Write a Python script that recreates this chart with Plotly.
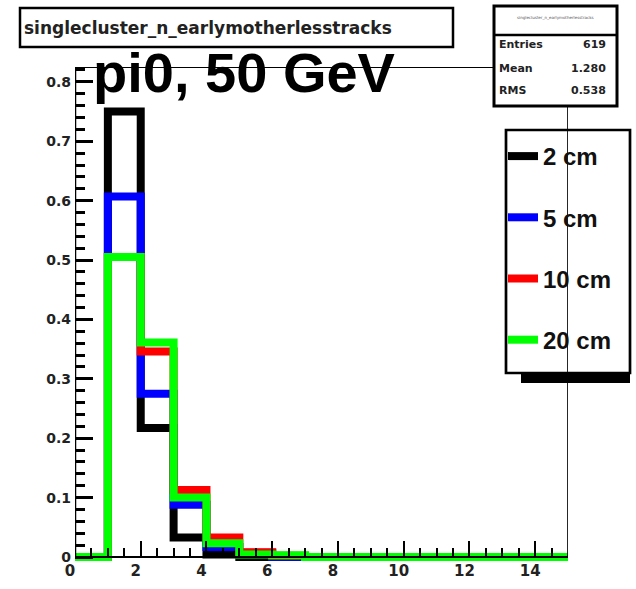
import plotly.graph_objects as go

# Bin edges of the histogram (15 unit-wide bins from 0 to 15)
bin_edges = list(range(0, 16))

# Normalised bin contents for each shower depth
series_names = ["2 cm", "5 cm", "10 cm", "20 cm"]
h_2cm = [0, 0.750, 0.217, 0.033, 0.004, 0, 0, 0, 0, 0, 0, 0, 0, 0, 0]
h_5cm = [0, 0.607, 0.275, 0.088, 0.017, 0.007, 0, 0, 0, 0, 0, 0, 0, 0, 0]
h_10cm = [0, 0.505, 0.346, 0.113, 0.033, 0.008, 0.002, 0, 0, 0, 0, 0, 0, 0, 0]
h_20cm = [0, 0.505, 0.361, 0.100, 0.023, 0.004, 0.003, 0, 0, 0, 0, 0, 0, 0, 0]
series_values = [h_2cm, h_5cm, h_10cm, h_20cm]
series_colors = ["#000000", "#0000ff", "#ff0000", "#00ff00"]

# Axis ticks
x_tickvals = [0, 2, 4, 6, 8, 10, 12, 14]
x_ticktext = ["0", "2", "4", "6", "8", "10", "12", "14"]
y_tickvals = [0, 0.1, 0.2, 0.3, 0.4, 0.5, 0.6, 0.7, 0.8]
y_ticktext = ["0", "0.1", "0.2", "0.3", "0.4", "0.5", "0.6", "0.7", "0.8"]

# Statistics box contents
stats_title = "singlecluster_n_earlymotherlesstracks"
stats_rows = [("Entries", "619"), ("Mean", "1.280"), ("RMS", "0.538")]

W, H = 636, 589
ML, MR, MT, MB = 75, 68, 67, 24
X_MAX = 15
Y_MAX = 0.825
# extend the y range a little below zero so the thick outlines at 0 are not clipped
PLOT_H = H - MT - MB
ZERO_PX = 8
Y_MIN = -Y_MAX * ZERO_PX / (PLOT_H - ZERO_PX)


def px_x(px):
    return (px - ML) / (W - ML - MR)


def px_y(py):
    return (H - MB - py) / PLOT_H


fig = go.Figure()

for name, vals, col in zip(series_names, series_values, series_colors):
    fig.add_trace(go.Scatter(
        x=bin_edges,
        y=vals + [vals[-1]],
        mode="lines",
        line=dict(color=col, width=8, shape="hv"),
        name=name,
        legendgroup=name,
    ))

fig.update_layout(
    width=W, height=H,
    margin=dict(l=ML, r=MR, t=MT, b=MB, autoexpand=False),
    paper_bgcolor="white",
    plot_bgcolor="white",
    showlegend=True,
    xaxis=dict(
        range=[0, X_MAX],
        anchor="free",
        position=ZERO_PX / PLOT_H,
        showgrid=False, zeroline=False,
        showline=True, linecolor="black", linewidth=2,
        tickvals=x_tickvals, ticktext=x_ticktext,
        ticks="inside", ticklen=15, tickwidth=2, tickcolor="black",
        minor=dict(dtick=0.5, ticks="inside", ticklen=8, tickwidth=2, tickcolor="black"),
        tickfont=dict(family="DejaVu Sans", size=15, color="#222", weight="bold"),
        ticklabelshift=-5,
        automargin=False,
    ),
    yaxis=dict(
        range=[Y_MIN, Y_MAX],
        showgrid=False, zeroline=False, showline=False,
        tickvals=y_tickvals, ticktext=y_ticktext,
        ticks="inside", ticklen=18, tickwidth=2.5, tickcolor="black",
        minor=dict(dtick=0.02, tick0=0, ticks="inside", ticklen=10, tickwidth=2.5, tickcolor="black"),
        tickfont=dict(family="DejaVu Sans", size=14, color="#222", weight="bold"),
        ticklabelstandoff=3,
        automargin=False,
    ),
    legend=dict(
        xref="container", yref="container",
        x=503 / W, y=1 - 134 / H,
        xanchor="left", yanchor="top",
        bgcolor="rgba(0,0,0,0)", borderwidth=0,
        font=dict(family="Liberation Sans", size=24, color="#111", weight="bold"),
        tracegroupgap=27,
        itemwidth=30,
    ),
)

shapes = []
# legend drop shadow and frame
shapes.append(dict(type="rect", xref="paper", yref="paper",
                   x0=px_x(521), x1=px_x(630), y0=px_y(383), y1=px_y(372),
                   fillcolor="black", line=dict(width=0)))
shapes.append(dict(type="rect", xref="paper", yref="paper",
                   x0=px_x(506), x1=px_x(630), y0=px_y(373), y1=px_y(130),
                   fillcolor="white", line=dict(color="black", width=2.7)))
# frame: left, top and right edges of the plotting region
shapes.append(dict(type="line", xref="x", yref="y", x0=0, x1=0, y0=0, y1=Y_MAX,
                   line=dict(color="black", width=2.5)))
shapes.append(dict(type="line", xref="x", yref="y", x0=0, x1=X_MAX, y0=Y_MAX, y1=Y_MAX,
                   line=dict(color="black", width=2)))
shapes.append(dict(type="line", xref="x", yref="y", x0=X_MAX, x1=X_MAX, y0=0, y1=Y_MAX,
                   line=dict(color="black", width=1.7)))
# histogram title box
shapes.append(dict(type="rect", xref="paper", yref="paper",
                   x0=px_x(20), x1=px_x(453), y0=px_y(47), y1=px_y(8),
                   fillcolor="white", line=dict(color="black", width=2.5)))
# statistics box
shapes.append(dict(type="rect", xref="paper", yref="paper",
                   x0=px_x(494), x1=px_x(617), y0=px_y(106), y1=px_y(6),
                   fillcolor="white", line=dict(color="black", width=3)))
shapes.append(dict(type="line", xref="paper", yref="paper",
                   x0=px_x(494), x1=px_x(617), y0=px_y(35), y1=px_y(35),
                   line=dict(color="black", width=2.5)))
fig.update_layout(shapes=shapes)

ann = []
ann.append(dict(text=stats_title, xref="paper", yref="paper",
                x=px_x(22), y=px_y(28), xanchor="left", yanchor="middle",
                showarrow=False,
                font=dict(family="DejaVu Sans", size=17, color="#222", weight="bold")))
ann.append(dict(text="pi0, 50 GeV", xref="paper", yref="paper",
                x=px_x(91), y=px_y(72), xanchor="left", yanchor="middle",
                showarrow=False,
                font=dict(family="Liberation Sans", size=56, color="black", weight="bold")))
ann.append(dict(text=stats_title, xref="paper", yref="paper",
                x=px_x(555), y=px_y(17), xanchor="center", yanchor="middle",
                showarrow=False,
                font=dict(family="DejaVu Sans", size=4, color="#555")))
row_y = [45, 68, 90]
for (lab, val), ry in zip(stats_rows, row_y):
    ann.append(dict(text=lab, xref="paper", yref="paper",
                    x=px_x(497), y=px_y(ry), xanchor="left", yanchor="middle",
                    showarrow=False,
                    font=dict(family="DejaVu Sans", size=11, color="#222", weight="bold")))
    ann.append(dict(text=val, xref="paper", yref="paper",
                    x=px_x(608), y=px_y(ry), xanchor="right", yanchor="middle",
                    showarrow=False,
                    font=dict(family="DejaVu Sans", size=11, color="#222", weight="bold")))
fig.update_layout(annotations=ann)

fig.write_html("out.html")
